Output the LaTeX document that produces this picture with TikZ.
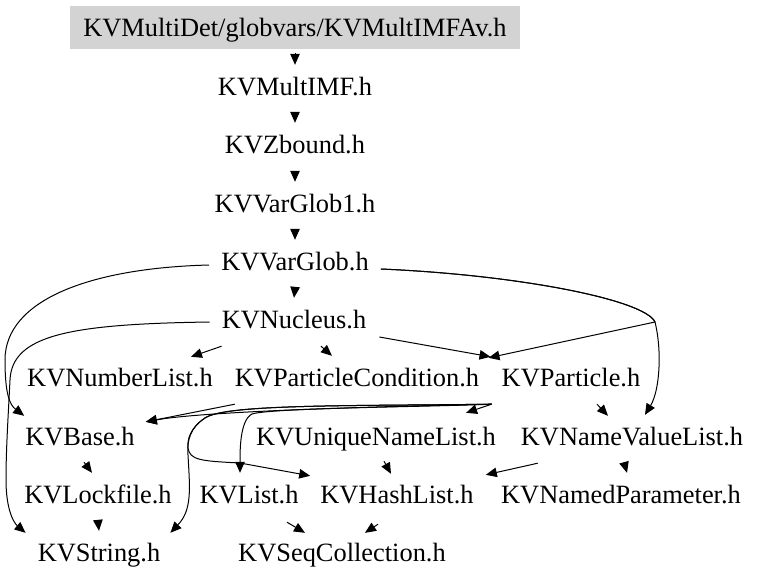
\documentclass[tikz,border=0pt]{standalone}
\usepackage{fontspec}
\setmainfont{Liberation Serif}
\usetikzlibrary{arrows.meta,calc}
\definecolor{boxgray}{RGB}{211,211,211}
\begin{document}
\begin{tikzpicture}[x=1pt,y=-1pt,
  lbl/.style={inner sep=0pt, text height=30pt, text depth=18pt, anchor=base, font=\fontsize{26.4}{30}\selectfont},
  rootbox/.style={fill=boxgray, inner sep=0pt, minimum width=450pt, minimum height=43pt, text height=21pt, text depth=3pt, font=\fontsize{26.4}{30}\selectfont},
  conn/.style={line width=1pt, -{Triangle[length=11pt,width=9.5pt]}}
]
\useasboundingbox (0,0) rectangle (761,587);
% nodes
\node[rootbox] (Av) at (295,27) {KVMultiDet/globvars/KVMultIMFAv.h};
\node[lbl] (MultIMF) at (295,95) {KVMultIMF.h};
\node[lbl] (Zbound) at (295,153) {KVZbound.h};
\node[lbl] (VarGlob1) at (295,212) {KVVarGlob1.h};
\node[lbl] (VarGlob) at (295,270) {KVVarGlob.h};
\node[lbl] (Nucleus) at (294,328) {KVNucleus.h};
\node[lbl] (NumberList) at (120,386) {KVNumberList.h};
\node[lbl] (PC) at (357,386) {KVParticleCondition.h};
\node[lbl] (Particle) at (571,386) {KVParticle.h};
\node[lbl] (Base) at (80,445) {KVBase.h};
\node[lbl] (UNL) at (376,445) {KVUniqueNameList.h};
\node[lbl] (NVL) at (632,445) {KVNameValueList.h};
\node[lbl] (Lockfile) at (98,503) {KVLockfile.h};
\node[lbl] (List) at (249,503) {KVList.h};
\node[lbl] (HashList) at (397,503) {KVHashList.h};
\node[lbl] (NP) at (621,503) {KVNamedParameter.h};
\node[lbl] (String) at (99,561) {KVString.h};
\node[lbl] (Seq) at (342,561) {KVSeqCollection.h};
% vertical chain
\draw[conn] ($(Av.south)+(0,4)$) -- (MultIMF.north);
\draw[conn] (MultIMF.south) -- (Zbound.north);
\draw[conn] (Zbound.south) -- (VarGlob1.north);
\draw[conn] (VarGlob1.south) -- (VarGlob.north);
\draw[conn] (VarGlob.south) -- (Nucleus.north);
% VarGlob edges
\draw[conn] ($(VarGlob.west)+(-12,1)$) .. controls (90,268) and (5,300) .. (5,360) .. controls (5,395) and (10,405) .. ($(Base.north west)+(-1,1)$);
\draw[conn] ($(VarGlob.east)+(12,5)$) .. controls (520,275) and (645,300) .. (655,322) -- ($(Particle.north west)+(-13,2)$);
\draw[conn] ($(VarGlob.east)+(12,5)$) .. controls (520,275) and (645,300) .. (655,322) .. controls (662,350) and (660,390) .. ($(NVL.north)+(13,0)$);
% Nucleus edges
\draw[conn] ($(Nucleus.west)+(-12,0)$) .. controls (70,324) and (12,335) .. (10,380) .. controls (8,420) and (6,450) .. (6,480) .. controls (6,510) and (14,523) .. ($(String.north west)+(-12,2)$);
\draw[conn] (Nucleus.south west) -- ($(NumberList.north east)+(-22,1)$);
\draw[conn] ($(Nucleus.south)+(27,0)$) -- ($(PC.north)+(-25,0)$);
\draw[conn] ($(Nucleus.east)+(13,15)$) -- ($(Particle.north west)+(-11,1)$);
% ParticleCondition
\draw[conn] (PC.south west) -- ($(Base.north east)+(11,7)$);
% Particle edges
\draw[conn] ($(Particle.south west)+(-10,0)$) .. controls (350,407) and (200,412) .. ($(Base.north east)+(11,7)$);
\draw[conn] ($(Particle.south west)+(-10,0)$) -- ($(UNL.north east)+(-30,-2)$);
\draw[conn] ($(Particle.south west)+(-10,0)$) .. controls (420,407) and (270,408) .. (252,414) .. controls (240,420) and (240,450) .. ($(List.north)+(-9,0)$);
\draw[conn] ($(Particle.south west)+(-10,0)$) .. controls (350,406) and (225,404) .. (205,418) .. controls (190,428) and (187,440) .. (188,455) .. controls (190,490) and (192,510) .. ($(String.north east)+(10,2)$);
\draw[conn] ($(Particle.south west)+(-10,0)$) .. controls (350,406) and (225,404) .. (205,418) .. controls (190,428) and (187,440) .. (188,448) .. controls (190,460) and (200,461) .. (240,463) -- ($(HashList.north west)+(-10,3)$);
\draw[conn] ($(Particle.south)+(26,0)$) -- ($(NVL.north)+(-24,1)$);
% lower rows
\draw[conn] ($(Base.south)+(4,-1)$) -- ($(Lockfile.north)+(-6,0)$);
\draw[conn] (Lockfile.south) -- (String.north);
\draw[conn] ($(UNL.south)+(8,-2)$) -- ($(HashList.north)+(-6,1)$);
\draw[conn] ($(NVL.south west)+(17,0)$) -- ($(HashList.north east)+(12,2)$);
\draw[conn] ($(NVL.south)+(-8,-1)$) -- ($(NP.north)+(6,0)$);
\draw[conn] ($(List.south)+(38,1)$) -- ($(Seq.north)+(-37,2)$);
\draw[conn] ($(HashList.south)+(-19,3)$) -- ($(Seq.north)+(23,2)$);
\end{tikzpicture}
\end{document}
